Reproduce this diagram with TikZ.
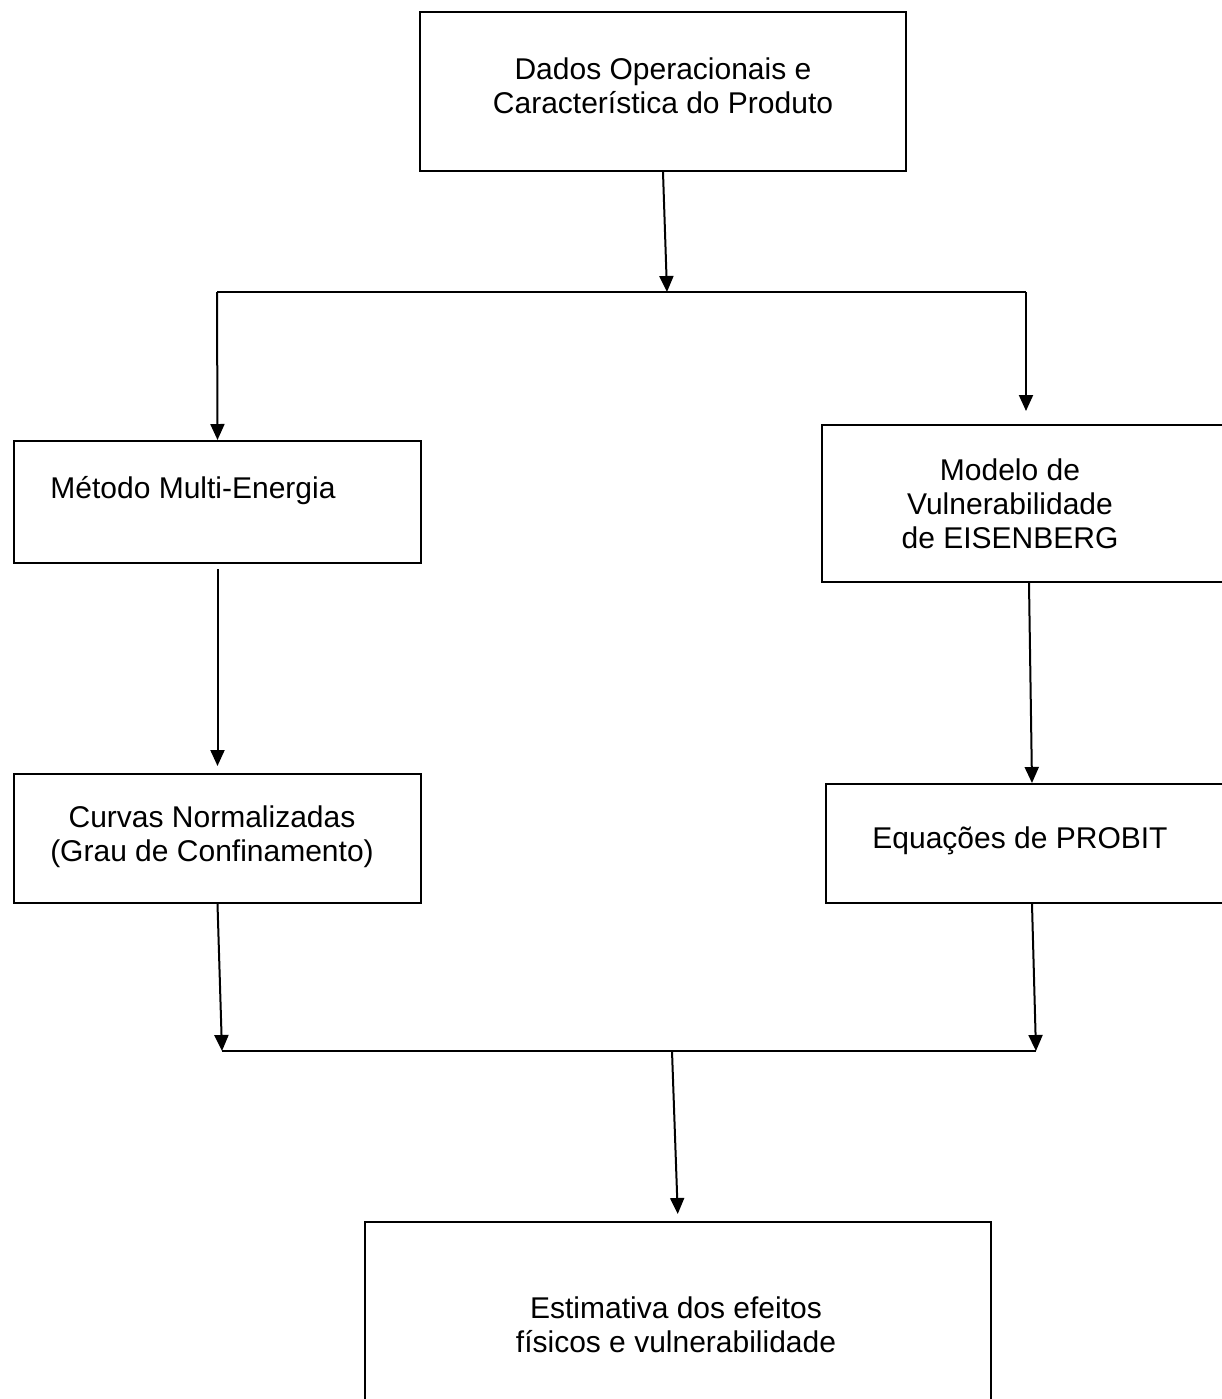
\documentclass[tikz,border=0pt]{standalone}
\usepackage{fontspec}
\setmainfont{Liberation Sans}
\usepackage{tikz}
\usetikzlibrary{arrows.meta, positioning, fit}
\tikzset{
  box/.style={rectangle, draw=black, inner sep=0pt, line width=1pt},
  txt/.style={align=center, font=\fontsize{15}{17}\selectfont},
  arrow/.style={-{Triangle[length=8pt, width=7pt]}, line width=1pt, color=black},
  line/.style={line width=1pt, color=black}
}

\begin{document}
\begin{tikzpicture}[x=0.5pt, y=-0.5pt]
  \useasboundingbox (0,0) rectangle (1222,1399);
  % Input data
  \node[box, fit={(420,12) (906,171)},
    label={[txt, yshift=2.75pt]center:Dados Operacionais e\\Característica do Produto}] (dados) {};
  % Left branch
  \node[box, fit={(14,441) (421,563)},
    label={[txt, xshift=-12.25pt, yshift=5.5pt]center:Método Multi-Energia}] (metodo) {};
  \node[box, fit={(14,774) (421,903)},
    label={[txt, xshift=-2.75pt, yshift=0.75pt]center:Curvas Normalizadas\\(Grau de Confinamento)}] (curvas) {};
  % Right branch
  \node[box, fit={(822,425) (1236,582)},
    label={[txt, xshift=-9.5pt]center:Modelo de\\Vulnerabilidade\\de EISENBERG}] (eisenberg) {};
  \node[box, fit={(826,784) (1238,903)},
    label={[txt, xshift=-6pt, yshift=1.25pt]center:Equações de PROBIT}] (probit) {};
  % Result
  \node[box, fit={(365,1222) (991,1428)},
    label={[txt, xshift=-1pt]center:Estimativa dos efeitos\\físicos e vulnerabilidade}] (estimativa) {};
  % Bus lines
  \coordinate (bus1L) at (217,292);
  \coordinate (bus1M) at (667,292);
  \coordinate (bus1R) at (1026,292);
  \coordinate (bus2L) at (222,1051);
  \coordinate (bus2M) at (672,1051);
  \coordinate (bus2R) at (1036,1051);
  % Split
  \draw[arrow] (dados.south) -- (bus1M);
  \draw[line] (bus1L) -- (bus1R);
  \draw[arrow] (bus1L) -- (metodo.north);
  \draw[arrow, shorten >=6.5pt] (bus1R) -- (bus1R |- eisenberg.north);
  % Branches
  \draw[arrow, shorten <=2.5pt, shorten >=3.5pt] (metodo.south) -- (curvas.north);
  \draw[arrow] (eisenberg.south) -- (probit.north);
  % Join
  \draw[arrow] (curvas.south) -- (bus2L);
  \draw[arrow] (probit.south) -- (bus2R);
  \draw[line] (bus2L) -- (bus2R);
  \draw[arrow, shorten >=3.5pt] (bus2M) -- (estimativa.north);
\end{tikzpicture}
\end{document}
